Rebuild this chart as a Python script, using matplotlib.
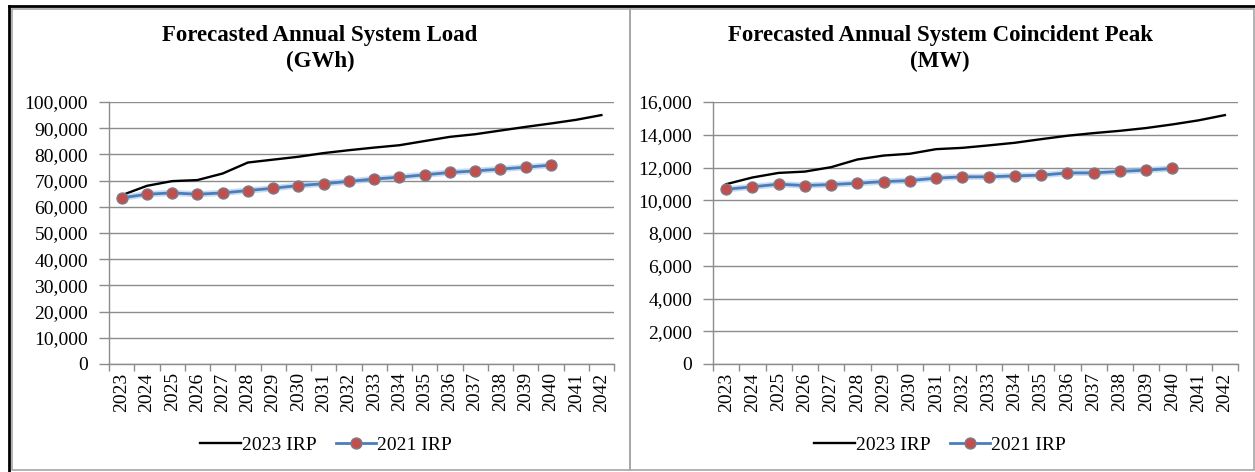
import matplotlib
matplotlib.use("Agg")
import matplotlib.pyplot as plt
from matplotlib.lines import Line2D
from matplotlib.patches import Rectangle

plt.rcParams['font.family'] = ['Liberation Serif', 'DejaVu Serif']

years = [str(y) for y in range(2023, 2043)]
load_2023 = [64400, 68000, 69800, 70200, 72700, 76900, 78000, 79100, 80500, 81600,
             82600, 83500, 85100, 86700, 87700, 89100, 90500, 91800, 93200, 95000]
load_2021 = [63400, 64800, 65300, 64800, 65300, 66200, 67100, 68100, 68800, 69700,
             70600, 71300, 72200, 73100, 73700, 74400, 75100, 75900]
peak_2023 = [10980, 11390, 11670, 11750, 12020, 12490, 12730, 12840, 13120, 13200,
             13350, 13510, 13730, 13940, 14100, 14240, 14410, 14630, 14880, 15200]
peak_2021 = [10670, 10820, 10980, 10900, 10960, 11040, 11140, 11200, 11350, 11430,
             11430, 11490, 11530, 11670, 11670, 11760, 11840, 11940]

titles = ["Forecasted Annual System Load\n(GWh)",
          "Forecasted Annual System Coincident Peak\n(MW)"]
series_names = ["2023 IRP", "2021 IRP"]

W, H = 1255, 472
fig = plt.figure(figsize=(W / 100, H / 100), dpi=100)

def fx(px):
    return px / W

def fy(py):
    return 1 - py / H

GRID = '#8c8c8c'
BLUE = '#4A7EBB'
RED = '#C0504D'

panels = [
    dict(ax=(109, 614), ymax=100000, step=10000, a=load_2023, b=load_2021,
         title=titles[0], tx=320, lx=326),
    dict(ax=(713, 1238), ymax=16000, step=2000, a=peak_2023, b=peak_2021,
         title=titles[1], tx=940, lx=940),
]

top_px, bot_px = 102, 364
for p in panels:
    x0, x1 = p['ax']
    ax = fig.add_axes([fx(x0), fy(bot_px), fx(x1 - x0), (bot_px - top_px) / H])
    n = len(years)
    xs = list(range(n))
    ax.set_xlim(-0.5, n - 0.5)
    ax.set_ylim(0, p['ymax'])
    yt = list(range(0, p['ymax'] + 1, p['step']))
    ax.set_yticks(yt)
    ax.set_yticklabels([f"{v:,}" for v in yt], fontsize=14)
    ax.yaxis.grid(True, color=GRID, linewidth=1.0)
    ax.set_axisbelow(True)
    ax.set_xticks([i - 0.5 for i in range(n + 1)])
    ax.set_xticklabels([])
    ax.set_xticks(xs, minor=True)
    ax.set_xticklabels(years, minor=True, rotation=90, fontsize=14)
    ax.tick_params(axis='x', which='major', length=5, color=GRID, width=1, direction='out')
    ax.tick_params(axis='x', which='minor', length=0, pad=6)
    ax.tick_params(axis='y', length=7, color=GRID, width=1, pad=8)
    for s in ['top', 'right']:
        ax.spines[s].set_visible(False)
    for s in ['left', 'bottom']:
        ax.spines[s].set_color(GRID)
        ax.spines[s].set_linewidth(1.0)
    ax.plot(xs, p['a'], color='black', linewidth=1.7, zorder=3)
    xb = xs[:len(p['b'])]
    ax.plot(xb, p['b'], color='#A9C6E8', linewidth=4.5, alpha=0.6, zorder=3,
            solid_capstyle='round')
    ax.plot(xb, p['b'], color=BLUE, linewidth=2.0, marker='o', markersize=8,
            markerfacecolor=RED, markeredgecolor='#7a7f8c', markeredgewidth=0.9, zorder=4)
    fig.text(fx(p['tx']), fy(49), p['title'], ha='center', va='center',
             fontsize=16.5, fontweight='bold', linespacing=1.3)
    handles = [Line2D([], [], color='black', linewidth=1.7),
               Line2D([], [], color=BLUE, linewidth=2.0, marker='o', markersize=8,
                      markerfacecolor=RED, markeredgecolor='#7a7f8c', markeredgewidth=0.9)]
    fig.legend(handles, series_names, loc='center', bbox_to_anchor=(fx(p['lx']), fy(445)),
               ncol=2, frameon=False, fontsize=14, handlelength=2.1,
               handletextpad=0.05, columnspacing=1.0)

# panel frames
fig.add_artist(Rectangle((fx(12), fy(470)), fx(630 - 12), (470 - 9) / H,
                         transform=fig.transFigure, fill=False, edgecolor='#a6a6a6', linewidth=1.2))
fig.add_artist(Rectangle((fx(630), fy(470)), fx(1254 - 630), (470 - 9) / H,
                         transform=fig.transFigure, fill=False, edgecolor='#a6a6a6', linewidth=1.2))
# outer black border (top and left)
fig.add_artist(Line2D([fx(9), 1], [fy(6), fy(6)], transform=fig.transFigure,
                      color='black', linewidth=2.0))
fig.add_artist(Line2D([fx(9), fx(9)], [fy(6), 0], transform=fig.transFigure,
                      color='black', linewidth=2.0))

fig.savefig('out.png', dpi=100)
